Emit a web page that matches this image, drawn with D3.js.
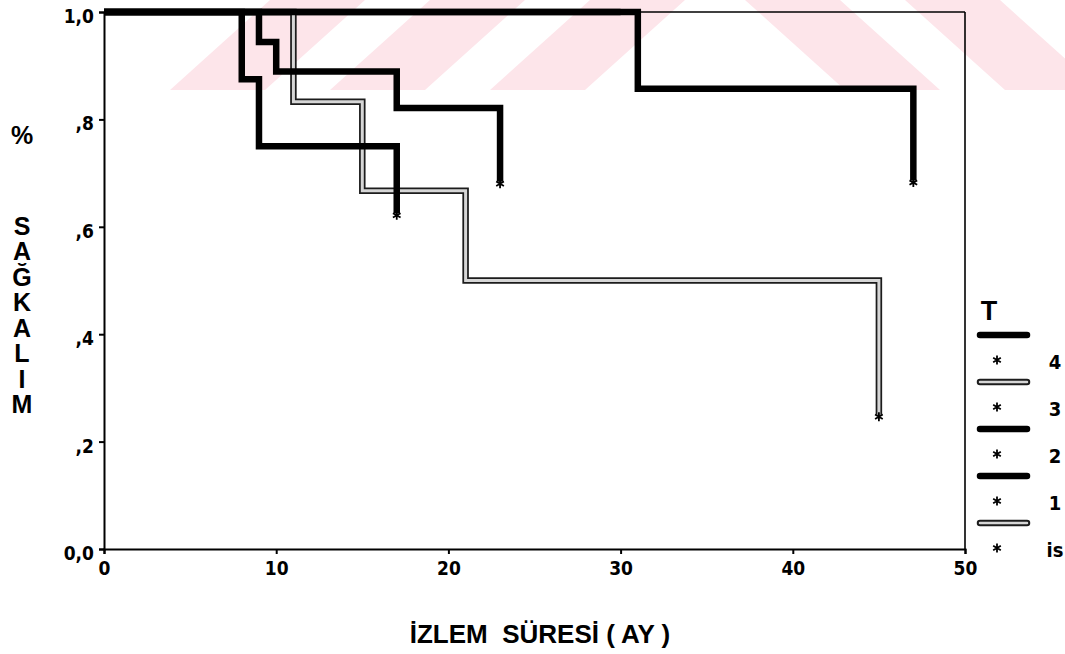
<!DOCTYPE html>
<html><head><meta charset="utf-8">
<script src="https://cdn.jsdelivr.net/npm/d3@7"></script>
<style>body{margin:0;background:#fff}svg{display:block}</style>
</head><body><svg id="c" width="1065" height="654"></svg>
<script>
// ---- data ----
const xTicks = [0, 10, 20, 30, 40, 50];
const yTicks = [0, 0.2, 0.4, 0.6, 0.8, 1.0];
const yTickLabels = ["0,0", ",2", ",4", ",6", ",8", "1,0"];
const groups = ["4", "3", "2", "1", "is"];
const groupKind = ["black", "gray", "black", "black", "gray"];
// Kaplan-Meier steps: times and survival after each time
const time4 = [0, 8, 9, 17];          const surv4 = [1, 0.875, 0.75, 0.625];
const time3 = [0, 11, 15, 21, 45];    const surv3 = [1, 0.833, 0.667, 0.5, 0.25];
const time2 = [0, 9, 10, 17, 23];     const surv2 = [1, 0.944, 0.889, 0.821, 0.684];
const time1 = [0, 31, 47];            const surv1 = [1, 0.857, 0.686];
const timeIs = [0, 30];               const survIs = [1, 1];
const censored = [true, true, true, true, false];
const times = [time4, time3, time2, time1, timeIs];
const survs = [surv4, surv3, surv2, surv1, survIs];
// watermark stripe offsets
const stripesUp = [170, 330, 490];
const stripesDown = [745, 905];

// ---- layout ----
const svg = d3.select("#c");
const x = d3.scaleLinear().domain([0, 50]).range([104, 965]);
const y = d3.scaleLinear().domain([0, 1]).range([549, 12]);

// watermark
const wm = svg.append("g").attr("fill", "#fde5ea");
stripesUp.forEach(b => wm.append("path").attr("d", `M${b},90 L${b+95},90 L${b+195},0 L${b+100},0 Z`));
stripesDown.forEach(b => wm.append("path").attr("d", `M${b},0 L${b+95},0 L${b+195},90 L${b+100},90 Z`));

// frame
const frame = svg.append("g").attr("stroke", "#000").attr("fill", "none");
frame.append("line").attr("x1", x(0)).attr("x2", x(50)).attr("y1", y(1)).attr("y2", y(1)).attr("stroke-width", 1.6);
frame.append("line").attr("x1", x(50)).attr("x2", x(50)).attr("y1", y(1)).attr("y2", y(0)).attr("stroke-width", 1.6);

// axes
const tickFont = "'Liberation Sans Narrow','DejaVu Sans Condensed',sans-serif";
const ya = svg.append("g").attr("transform", `translate(${x(0)},0)`)
  .call(d3.axisLeft(y).tickValues(yTicks).tickSize(5).tickPadding(5)
        .tickFormat((d, i) => yTickLabels[i]));
const xa = svg.append("g").attr("transform", `translate(0,${y(0)})`)
  .call(d3.axisBottom(x).tickValues(xTicks).tickSize(5).tickPadding(8));
[ya, xa].forEach(a => {
  a.select(".domain").attr("stroke-width", 2);
  a.selectAll(".tick line").attr("stroke-width", 2);
  a.selectAll("text").attr("font-family", tickFont).attr("font-weight", "bold")
    .attr("font-size", 19).attr("fill", "#000");
});
ya.selectAll("text").attr("dy", "0.55em");

// curves
const line = d3.line().x(d => x(d[0])).y(d => y(d[1])).curve(d3.curveStepAfter);
const order = [4, 1, 0, 2, 3];
order.forEach(i => {
  const pts = times[i].map((t, j) => [t, survs[i][j]]);
  const g = svg.append("g");
  if (groupKind[i] === "gray") {
    g.append("path").attr("d", line(pts)).attr("fill", "none").attr("stroke", "#1c1c1c").attr("stroke-width", 6.5);
    g.append("path").attr("d", line(pts)).attr("fill", "none").attr("stroke", "#d6d6d6").attr("stroke-width", 3);
  } else {
    g.append("path").attr("d", line(pts)).attr("fill", "none").attr("stroke", "#000").attr("stroke-width", 6.5);
  }
  if (censored[i]) {
    const last = pts[pts.length - 1];
    g.append("path").attr("d", d3.symbol(d3.symbolAsterisk, 55)())
      .attr("transform", `translate(${x(last[0])},${y(last[1]) + 2})`)
      .attr("stroke", "#000").attr("stroke-width", 1.8).attr("fill", "none");
  }
});

// y label
const yl = svg.append("g").attr("font-family", "'Liberation Sans',Arial,sans-serif")
  .attr("font-weight", "bold").attr("font-size", 25).attr("text-anchor", "middle");
yl.append("text").attr("x", 22).attr("y", 135).attr("dy", "0.35em").text("%");
const letters = ["S", "A", "Ğ", "K", "A", "L", "I", "M"];
letters.forEach((c, i) => yl.append("text").attr("x", 22).attr("y", 226 + i * 25.5).attr("dy", "0.35em").text(c));

// x label
svg.append("text").attr("x", 540).attr("y", 634).attr("dy", "0.35em")
  .attr("text-anchor", "middle").attr("font-family", "'Liberation Sans',Arial,sans-serif")
  .attr("font-weight", "bold").attr("font-size", 26).attr("xml:space", "preserve")
  .text("İZLEM  SÜRESİ ( AY )");

// legend
const lg = svg.append("g");
lg.append("text").attr("x", 989).attr("y", 311).attr("dy", "0.35em").attr("text-anchor", "middle")
  .attr("font-family", "'Liberation Sans',Arial,sans-serif").attr("font-weight", "bold").attr("font-size", 27).text("T");
groups.forEach((gname, i) => {
  const ly = 335 + i * 47;
  if (groupKind[i] === "gray") {
    lg.append("line").attr("x1", 980).attr("x2", 1027).attr("y1", ly).attr("y2", ly)
      .attr("stroke", "#1c1c1c").attr("stroke-width", 6.5).attr("stroke-linecap", "round");
    lg.append("line").attr("x1", 980).attr("x2", 1027).attr("y1", ly).attr("y2", ly)
      .attr("stroke", "#d6d6d6").attr("stroke-width", 2.5).attr("stroke-linecap", "round");
  } else {
    lg.append("line").attr("x1", 980).attr("x2", 1027).attr("y1", ly).attr("y2", ly)
      .attr("stroke", "#000").attr("stroke-width", 6.5).attr("stroke-linecap", "round");
  }
  lg.append("path").attr("d", d3.symbol(d3.symbolAsterisk, 55)())
    .attr("transform", `translate(997,${ly + 25})`)
    .attr("stroke", "#000").attr("stroke-width", 1.8).attr("fill", "none");
  lg.append("text").attr("x", 1055).attr("y", ly + 27).attr("dy", "0.35em").attr("text-anchor", "middle")
    .attr("font-family", tickFont).attr("font-weight", "bold").attr("font-size", 20).text(gname);
});
</script></body></html>
